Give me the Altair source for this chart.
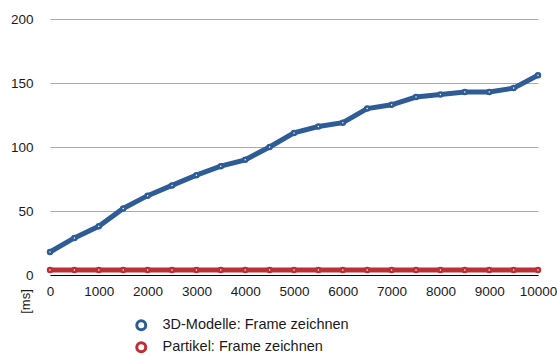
import altair as alt
import pandas as pd

# Number of objects (x) and frame drawing time in ms for both scenes
objekte = [0, 500, 1000, 1500, 2000, 2500, 3000, 3500, 4000, 4500, 5000,
           5500, 6000, 6500, 7000, 7500, 8000, 8500, 9000, 9500, 10000]
modelle_ms = [18, 29, 38, 52, 62, 70, 78, 85, 90, 100, 111,
              116, 119, 130, 133, 139, 141, 143, 143, 146, 156]
partikel_ms = [4] * 21

serien = ["3D-Modelle: Frame zeichnen", "Partikel: Frame zeichnen"]
farben = ["#2e5c96", "#bb2f35"]
x_ticks = [0, 1000, 2000, 3000, 4000, 5000, 6000, 7000, 8000, 9000, 10000]
y_ticks = [0, 50, 100, 150, 200]

df = pd.concat([
    pd.DataFrame({"x": objekte, "ms": modelle_ms, "serie": serien[0]}),
    pd.DataFrame({"x": objekte, "ms": partikel_ms, "serie": serien[1]}),
])

FONT = "Liberation Sans"

x_enc = alt.X("x:Q", scale=alt.Scale(domain=[0, 10000], nice=False),
              axis=alt.Axis(values=x_ticks, format="d", title=None, grid=False,
                            ticks=False, domainColor="black", domainWidth=1.2,
                            labelFontSize=13.5, labelColor="#1a1a1a",
                            labelPadding=9, labelFont=FONT, labelFlush=False))
y_enc = alt.Y("ms:Q", scale=alt.Scale(domain=[0, 200], nice=False),
              axis=alt.Axis(values=y_ticks, title="[ms]", domain=False, ticks=False,
                            gridColor="#aaaaaa", gridWidth=1,
                            labelFontSize=13.5, labelColor="#1a1a1a", labelPadding=17,
                            labelFont=FONT,
                            titleFont=FONT, titleFontSize=13, titleFontWeight="normal",
                            titleColor="#1a1a1a", titleAngle=270,
                            titleX=-25, titleY=282, titleAlign="center",
                            titleBaseline="middle"))
color_enc = alt.Color("serie:N", scale=alt.Scale(domain=serien, range=farben),
                      legend=alt.Legend(title=None, orient="none",
                                        legendX=84, legendY=299,
                                        symbolType="circle", symbolFillColor="white",
                                        symbolStrokeWidth=3, symbolSize=80,
                                        labelFontSize=14.5, labelFont=FONT,
                                        labelColor="#1a1a1a", rowPadding=0,
                                        labelOffset=14, labelLimit=400))

linien = alt.Chart(df).mark_line(strokeWidth=5).encode(
    x=x_enc, y=y_enc, color=color_enc)

punkte = alt.Chart(df).mark_point(filled=False, fill="white", fillOpacity=1,
                                  size=16, strokeWidth=2.5, opacity=1).encode(
    x=x_enc, y=y_enc, color=color_enc)

chart = alt.layer(linien, punkte).properties(
    width=488, height=256,
    autosize=alt.AutoSizeParams(type="none"),
    padding={"left": 50, "top": 19, "right": 19, "bottom": 81},
    background="white",
).configure_view(stroke=None)

chart.save("out.html", embed_options={"renderer": "svg", "actions": False})
